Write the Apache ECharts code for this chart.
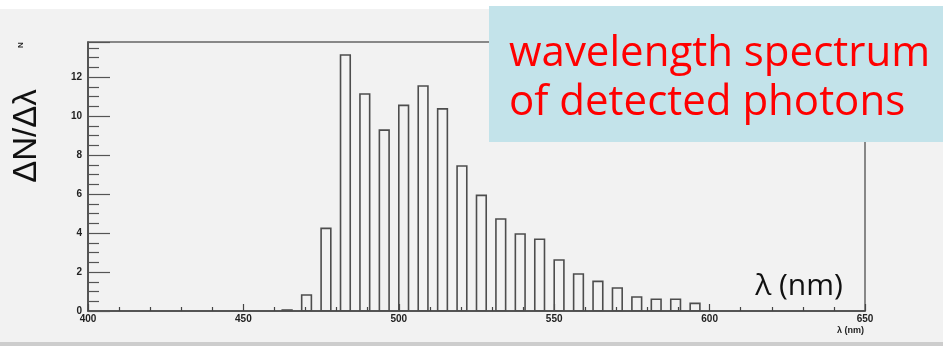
<!DOCTYPE html>
<html>
<head>
<meta charset="utf-8">
<script src="https://cdn.jsdelivr.net/npm/echarts@6/dist/echarts.min.js"></script>
<style>
html,body{margin:0;padding:0;background:#f2f2f2;}
#chart{width:943px;height:346px;}
</style>
</head>
<body>
<div id="chart"></div>
<script>
// bin lower edges (nm) and counts
var binStarts = [462.5, 468.75, 475, 481.25, 487.5, 493.75, 500, 506.25, 512.5, 518.75, 525, 531.25, 537.5, 543.75, 550, 556.25, 562.5, 568.75, 575, 581.25, 587.5, 593.75];
var counts = [0.05, 0.82, 4.24, 13.13, 11.13, 9.28, 10.55, 11.54, 10.37, 7.44, 5.93, 4.72, 3.95, 3.68, 2.62, 1.90, 1.52, 1.18, 0.72, 0.60, 0.60, 0.39];
var binWidth = 6.25;
var barFraction = 0.5;
var xTicks = [400, 450, 500, 550, 600, 650];
var yTicks = [0, 2, 4, 6, 8, 10, 12];
var boxLines = ['wavelength spectrum', 'of detected photons'];

var data = binStarts.map(function (b, i) { return [b, counts[i]]; });

var chart = echarts.init(document.getElementById('chart'), null, {renderer: 'canvas'});
chart.setOption({
  backgroundColor: '#f2f2f2',
  animation: false,
  grid: {left: 88, right: 78, top: 42, bottom: 35, show: true, borderColor: '#666', borderWidth: 1.5, backgroundColor: 'transparent'},
  xAxis: {
    type: 'value', min: xTicks[0], max: xTicks[xTicks.length - 1], interval: 50,
    axisLine: {lineStyle: {color: '#444', width: 1.5}},
    axisTick: {inside: true, length: 7, lineStyle: {color: '#444', width: 1.2}},
    minorTick: {show: true, splitNumber: 5, length: 4, lineStyle: {color: '#444', width: 1.2}},
    splitLine: {show: false},
    axisLabel: {fontSize: 10, fontWeight: 'bold', color: '#222', margin: 3, fontFamily: 'Liberation Sans'}
  },
  yAxis: {
    type: 'value', min: 0, max: 13.8, interval: 2,
    axisLine: {show: true, lineStyle: {color: '#444', width: 1.5}},
    axisTick: {inside: true, length: 22, lineStyle: {color: '#555', width: 1.2}},
    minorTick: {show: true, splitNumber: 4, length: 11, lineStyle: {color: '#555', width: 1.2}},
    splitLine: {show: false},
    axisLabel: {fontSize: 10, fontWeight: 'bold', color: '#222', margin: 6, fontFamily: 'Liberation Sans', showMaxLabel: false,
      formatter: function (v) { return yTicks.indexOf(v) >= 0 ? String(v) : ''; }}
  },
  series: [{
    type: 'custom',
    data: data,
    clip: true,
    renderItem: function (params, api) {
      var x0 = api.value(0), v = api.value(1);
      var p0 = api.coord([x0, 0]);
      var p1 = api.coord([x0 + binWidth * barFraction, v]);
      return {
        type: 'rect',
        shape: {x: p0[0], y: p1[1], width: p1[0] - p0[0], height: p0[1] - p1[1]},
        style: {fill: 'none', stroke: '#4d4d4d', lineWidth: 1.6}
      };
    }
  }],
  graphic: [
    {type: 'rect', left: 0, top: 0, shape: {width: 943, height: 9}, style: {fill: '#ffffff'}, z: 0},
    {type: 'rect', left: 0, top: 342, shape: {width: 943, height: 4}, style: {fill: '#cdcdcd'}, z: 0},
    {type: 'rect', left: 489, top: 6, shape: {width: 454, height: 136}, style: {fill: '#c3e3ea'}, z: 10},
    {type: 'text', x: 509, y: 54, style: {text: boxLines[0], fill: '#ff0000', font: '42px "Open Sans"', textAlign: 'left', textVerticalAlign: 'middle'}, z: 11},
    {type: 'text', x: 509, y: 103, style: {text: boxLines[1], fill: '#ff0000', font: '42px "Open Sans"', textAlign: 'left', textVerticalAlign: 'middle'}, z: 11},
    {type: 'text', x: 27, y: 136, rotation: Math.PI / 2,
      style: {text: 'ΔN/Δλ', fill: '#111', font: '33px "Liberation Sans"', textAlign: 'center', textVerticalAlign: 'middle'}, z: 11},
    {type: 'text', x: 21, y: 45, rotation: Math.PI / 2,
      style: {text: 'N', fill: '#222', font: 'bold 8px "Liberation Sans"', textAlign: 'center', textVerticalAlign: 'middle'}, z: 11},
    {type: 'text', x: 799, y: 286,
      style: {text: 'λ (nm)', fill: '#111', font: '30px "Open Sans"', textAlign: 'center', textVerticalAlign: 'middle'}, z: 11},
    {type: 'text', x: 864, y: 331,
      style: {text: 'λ (nm)', fill: '#222', font: 'bold 9px "Liberation Sans"', textAlign: 'right', textVerticalAlign: 'middle'}, z: 11}
  ]
});
</script>
</body>
</html>
